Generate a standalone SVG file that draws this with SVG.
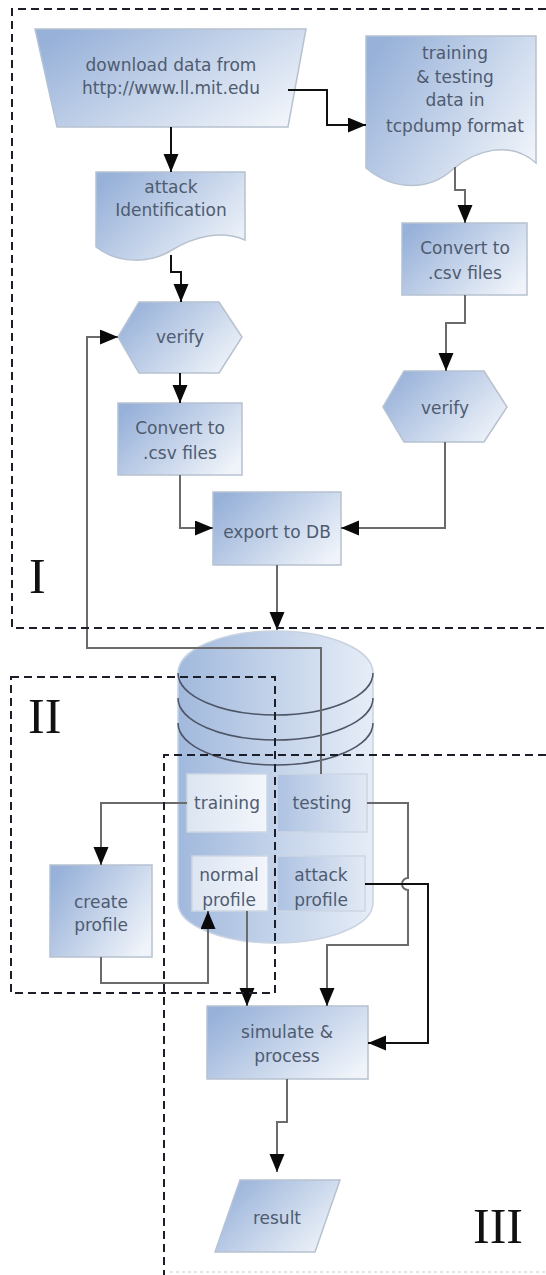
<svg xmlns="http://www.w3.org/2000/svg" width="546" height="1275" viewBox="0 0 546 1275">
<defs>
<linearGradient id="gNode" x1="0" y1="0.2" x2="1" y2="0.8">
<stop offset="0" stop-color="#97b1d9"/>
<stop offset="1" stop-color="#f0f4fa"/>
</linearGradient>
<linearGradient id="gCyl" x1="0" y1="0" x2="1" y2="0">
<stop offset="0" stop-color="#a1b9dd"/>
<stop offset="1" stop-color="#e6edf7"/>
</linearGradient>
<linearGradient id="gLight" x1="0" y1="0" x2="1" y2="0">
<stop offset="0" stop-color="#dce5f2"/>
<stop offset="1" stop-color="#f3f6fb"/>
</linearGradient>
<linearGradient id="gMid" x1="0" y1="0" x2="1" y2="0">
<stop offset="0" stop-color="#adc2e2"/>
<stop offset="1" stop-color="#e2e9f4"/>
</linearGradient>
<marker id="ah" markerUnits="userSpaceOnUse" markerWidth="20" markerHeight="16" refX="18" refY="7.5" orient="auto">
<path d="M0,0 L18,7.5 L0,15 Z" fill="#0a0a0a"/>
</marker>
<style>
.node{fill:url(#gNode);stroke:#b7c2d0;stroke-width:1.5}
.inL{fill:url(#gLight);stroke:#cdd6e3;stroke-width:1.5}
.inM{fill:url(#gMid);stroke:#cdd6e3;stroke-width:1.5}
.t{font-family:"DejaVu Sans",Verdana,sans-serif;font-size:17px;fill:#4f5b6f;text-anchor:middle}
.lbl{font-family:"Liberation Serif","Times New Roman",serif;font-size:50px;fill:#111}
.c{fill:none;stroke:#6b6b6b;stroke-width:2;marker-end:url(#ah)}
.cn{fill:none;stroke:#6b6b6b;stroke-width:2}
.k{fill:none;stroke:#111;stroke-width:2;marker-end:url(#ah)}
.dash{fill:none;stroke:#1c1f2a;stroke-width:2;stroke-dasharray:8 5}
.arc{fill:none;stroke:#4d5566;stroke-width:1.5}
</style>
</defs>

<g id="db">
<path d="M178,673 A97.5,42 0 0 1 373,673 V903 A97.5,40 0 0 1 178,903 Z" fill="url(#gCyl)" stroke="#c8d2e0" stroke-width="1.5"/>
<path class="arc" d="M178,673 A97.5,42 0 0 0 373,673"/>
<path class="arc" d="M178,698 A97.5,42 0 0 0 373,698"/>
<path class="arc" d="M178,723 A97.5,42 0 0 0 373,723"/>
</g>

<g id="download">
<polygon class="node" points="35,29 306,29 288,127 57,127"/>
<text class="t" x="171" y="71">download data from</text>
<text class="t" x="171" y="94">http://www.ll.mit.edu</text>
</g>

<g id="tcpdump">
<path class="node" d="M366,36 H536 V163 C510,140 475,150 452,170 C430,190 395,192 366,168 Z"/>
<text class="t" x="455" y="59">training</text>
<text class="t" x="455" y="83">&amp; testing</text>
<text class="t" x="455" y="106">data in</text>
<text class="t" x="455" y="132">tcpdump format</text>
</g>

<g id="attack-id">
<path class="node" d="M96,172 H245 V240 C222,230 195,236 172,250 C150,264 118,264 96,247 Z"/>
<text class="t" x="171" y="193">attack</text>
<text class="t" x="171" y="216">Identification</text>
</g>

<g id="convert1">
<rect class="node" x="402" y="223" width="125" height="72"/>
<text class="t" x="465" y="254">Convert to</text>
<text class="t" x="465" y="279">.csv files</text>
</g>

<g id="verify1">
<polygon class="node" points="118,337 139,302 219,302 242,337 219,373 139,373"/>
<text class="t" x="180" y="343">verify</text>
</g>

<g id="convert2">
<rect class="node" x="118" y="403" width="124" height="72"/>
<text class="t" x="180" y="434">Convert to</text>
<text class="t" x="180" y="459">.csv files</text>
</g>

<g id="verify2">
<polygon class="node" points="383,407 404,371 484,371 507,407 484,442 404,442"/>
<text class="t" x="445" y="414">verify</text>
</g>

<g id="export">
<rect class="node" x="213" y="492" width="128" height="73"/>
<text class="t" x="277" y="538">export to DB</text>
</g>

<g id="training">
<rect class="inL" x="187" y="774" width="80" height="58"/>
<text class="t" x="227" y="809">training</text>
</g>

<g id="testing">
<rect class="inM" x="277" y="774" width="90" height="58"/>
<text class="t" x="322" y="809">testing</text>
</g>

<g id="normal-profile">
<rect class="inL" x="192" y="856" width="76" height="55"/>
<text class="t" x="229" y="881">normal</text>
<text class="t" x="229" y="906">profile</text>
</g>

<g id="attack-profile">
<rect class="inM" x="277" y="856" width="88" height="55"/>
<text class="t" x="321" y="881">attack</text>
<text class="t" x="321" y="906">profile</text>
</g>

<g id="create-profile">
<rect class="node" x="50" y="865" width="102" height="92"/>
<text class="t" x="101" y="908">create</text>
<text class="t" x="101" y="931">profile</text>
</g>

<g id="simulate">
<rect class="node" x="207" y="1006" width="161" height="73"/>
<text class="t" x="287" y="1038">simulate &amp;</text>
<text class="t" x="287" y="1062">process</text>
</g>

<g id="result">
<polygon class="node" points="240,1180 340,1180 315,1252 215,1252"/>
<text class="t" x="277" y="1224">result</text>
</g>

<g id="connectors">
<path class="k" d="M288,90 H327 V125 H366"/>
<path class="k" d="M171,127 V172"/>
<path class="k" d="M171,255 V272 H181 V302"/>
<path class="c" d="M455,167 V190 H465 V223"/>
<path class="k" d="M180,373 V403"/>
<path class="c" d="M465,295 V323 H446 V371"/>
<path class="c" d="M180,475 V528 H213"/>
<path class="c" d="M445,442 V528 H341"/>
<path class="c" d="M277,565 V630"/>
<path class="c" d="M321,774 V648 H87 V337 H118"/>
<path class="c" d="M187,803 H101 V865"/>
<path class="c" d="M101,957 V983 H208 V911"/>
<path class="c" d="M247,911 V1006"/>
<path class="c" d="M367,803 H408 V878 A6,6 0 0 0 408,890 V945 H327 V1006"/>
<path class="k" d="M365,884 H428 V1043 H368"/>
<path class="c" d="M287,1079 V1122 H277 V1172"/>
</g>

<g id="region-I">
<path class="dash" d="M546,9 H12 V628 H546"/>
<text class="lbl" x="29" y="593">I</text>
</g>
<g id="region-II">
<rect class="dash" x="11" y="677" width="264" height="316"/>
<text class="lbl" x="28" y="733">II</text>
</g>
<g id="region-III">
<path class="dash" d="M546,755 H164 V1275"/>
<path d="M170,1272 H546" fill="none" stroke="#dcdcdc" stroke-width="1.5" stroke-dasharray="3 3"/>
<text class="lbl" x="473" y="1243">III</text>
</g>
</svg>
